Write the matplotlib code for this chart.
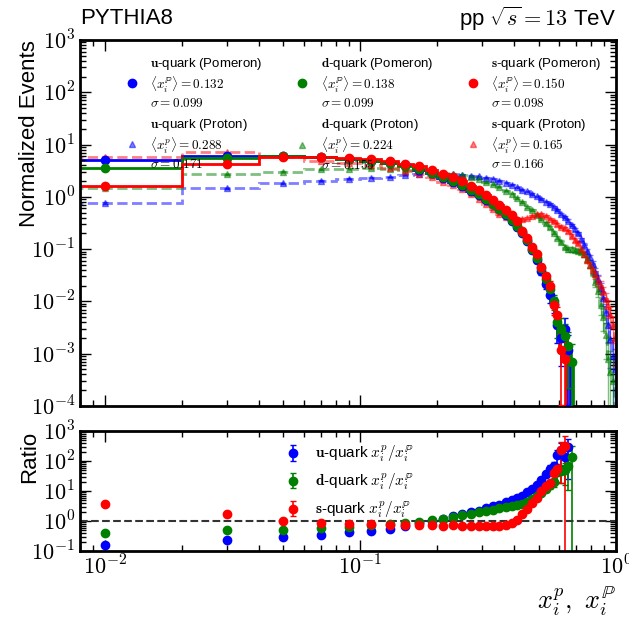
import numpy as np
import matplotlib
matplotlib.use("Agg")
import matplotlib.pyplot as plt
from matplotlib.ticker import FuncFormatter, NullFormatter

plt.rcParams['font.family'] = ['Liberation Sans', 'DejaVu Sans']
plt.rcParams['mathtext.fontset'] = 'cm'

# 50 bins of width 0.02 between 0 and 1
edges = np.linspace(0.0, 1.0, 51)
centers = 0.5 * (edges[1:] + edges[:-1])
width = 0.02
n_events = 50000

# normalised x distributions, Pomeron side (zero above the last filled bin)
pom_u = [5.0, 6.1, 6.1, 5.85, 5.2, 4.9, 4.5, 4.0, 3.3, 2.8,
         2.3, 1.9, 1.6, 1.32, 1.1, 0.88, 0.72, 0.58, 0.44, 0.35,
         0.27, 0.2, 0.14, 0.095, 0.062, 0.038, 0.022, 0.013, 0.009, 0.0035,
         0.002, 0.003, 0.0012] + [0.0] * 17
pom_d = [3.6, 5.45, 6.0, 5.8, 5.3, 4.9, 4.5, 3.9, 3.35, 2.85,
         2.4, 2.0, 1.65, 1.35, 1.12, 0.9, 0.73, 0.58, 0.46, 0.36,
         0.28, 0.21, 0.15, 0.1, 0.068, 0.044, 0.027, 0.017, 0.01, 0.004,
         0.003, 0.0022, 0.0014, 0.0007] + [0.0] * 16
pom_s = [1.6, 4.24, 5.7, 5.7, 5.6, 5.2, 4.85, 4.2, 3.83, 3.31,
         2.76, 2.39, 2.0, 1.64, 1.36, 1.09, 0.885, 0.71, 0.567, 0.455,
         0.348, 0.223, 0.16, 0.109, 0.079, 0.045, 0.03, 0.02, 0.0085, 0.0055,
         0.0012, 0.0008] + [0.0] * 18

# proton side
pro_u = [0.77, 1.45, 1.81, 2.03, 2.2, 2.3, 2.4, 2.65, 2.75, 2.75,
         2.75, 2.7, 2.65, 2.55, 2.45, 2.32, 2.2, 2.05, 1.85, 1.7,
         1.53, 1.38, 1.27, 1.14, 1.02, 0.9, 0.81, 0.72, 0.63, 0.55,
         0.475, 0.41, 0.35, 0.29, 0.24, 0.2, 0.154, 0.12, 0.092, 0.07,
         0.052, 0.037, 0.027, 0.018, 0.0115, 0.0064, 0.0035, 0.0019, 0.0009, 0.0005]
pro_d = [1.45, 2.7, 3.0, 3.36, 3.45, 3.5, 3.45, 3.3, 3.2, 2.98,
         2.85, 2.75, 2.6, 2.4, 2.2, 1.92, 1.75, 1.55, 1.32, 1.15,
         0.95, 0.8, 0.65, 0.55, 0.45, 0.38, 0.31, 0.26, 0.206, 0.166,
         0.137, 0.11, 0.099, 0.099, 0.097, 0.093, 0.09, 0.079, 0.066, 0.05,
         0.037, 0.024, 0.016, 0.0085, 0.005, 0.0023, 0.0008, 0.00045, 0.0003, 0.0]
pro_s = [5.85, 7.1, 5.9, 4.9, 4.45, 4.0, 3.6, 3.15, 2.75, 2.35,
         1.95, 1.7, 1.4, 1.12, 0.92, 0.73, 0.59, 0.47, 0.42, 0.4,
         0.38, 0.37, 0.4, 0.43, 0.47, 0.46, 0.43, 0.38, 0.34, 0.3,
         0.27, 0.25, 0.22, 0.18, 0.15, 0.13, 0.1, 0.08, 0.063, 0.05,
         0.04, 0.033, 0.025, 0.02, 0.015, 0.011, 0.008, 0.0055, 0.0035, 0.002]

quarks = ['u', 'd', 's']
colors = ['blue', 'green', 'red']
mean_pom = ['0.132', '0.138', '0.150']
sigma_pom = ['0.099', '0.099', '0.098']
mean_pro = ['0.288', '0.224', '0.165']
sigma_pro = ['0.171', '0.155', '0.166']


def stat_err(vals):
    counts = vals * n_events * width
    return np.sqrt(counts) / (n_events * width)


def pow10(v, pos):
    return r'$10^{%d}$' % int(round(np.log10(v)))


fig = plt.figure(figsize=(6.29, 6.2), dpi=100)
ax = fig.add_axes([0.1272, 0.3452, 0.8522, 0.5903])
rax = fig.add_axes([0.1272, 0.1113, 0.8522, 0.1935], sharex=ax)

handles, labels = [], []
rhandles, rlabels = [], []
for q, c, pom, pro, mp, sp, mq, sq in zip(quarks, colors, [pom_u, pom_d, pom_s],
                                          [pro_u, pro_d, pro_s], mean_pom, sigma_pom,
                                          mean_pro, sigma_pro):
    pom = np.array(pom)
    pro = np.array(pro)

    # proton: dashed, faded triangles
    ax.stairs(pro, edges, baseline=None, color=c, ls='--', lw=2, alpha=0.5)
    m = pro > 0
    eb_pro = ax.errorbar(centers[m], pro[m], yerr=stat_err(pro[m]), fmt='^', color=c,
                         alpha=0.5, ms=5, capsize=2, elinewidth=1)

    # pomeron: solid steps with circles
    ax.stairs(pom, edges, baseline=None, color=c, lw=2)
    m = pom > 0
    eb_pom = ax.errorbar(centers[m], pom[m], yerr=stat_err(pom[m]), fmt='o', color=c,
                         ms=6, capsize=2, elinewidth=1.2, zorder=3)

    handles += [eb_pom[0], eb_pro[0]]
    labels += [r'$\mathbf{%s}$-quark (Pomeron)' % q + '\n'
               + r'$\langle x_i^{\mathbb{P}}\rangle = %s$' % mp + '\n'
               + r'$\sigma = %s$' % sp,
               r'$\mathbf{%s}$-quark (Proton)' % q + '\n'
               + r'$\langle x_i^{p}\rangle = %s$' % mq + '\n'
               + r'$\sigma = %s$' % sq]

    # ratio proton / pomeron
    m = (pom > 0) & (pro > 0)
    ratio = pro[m] / pom[m]
    rerr = ratio * np.sqrt((stat_err(pro[m]) / pro[m]) ** 2 + (stat_err(pom[m]) / pom[m]) ** 2)
    eb_r = rax.errorbar(centers[m], ratio, yerr=rerr, fmt='o', color=c, ms=6,
                        capsize=2, elinewidth=1.2)
    rhandles.append(eb_r)
    rlabels.append(r'$\mathbf{%s}$-quark $x_i^p/x_i^{\mathbb{P}}$' % q)

rax.axhline(1.0, color='#333333', ls='--', lw=1.5)

for a in (ax, rax):
    a.set_xscale('log')
    a.set_yscale('log')
    a.tick_params(which='both', direction='in', top=True, right=True, labelsize=16)
    a.tick_params(which='major', length=8, width=1)
    a.tick_params(which='minor', length=4, width=1)
    for axis in (a.xaxis, a.yaxis):
        axis.set_major_formatter(FuncFormatter(pow10))
        axis.set_minor_formatter(NullFormatter())
    for s in a.spines.values():
        s.set_linewidth(2)

ax.set_xlim(0.008, 1.0)
ax.set_ylim(1e-4, 1e3)
rax.set_ylim(1e-1, 1e3)
ax.tick_params(labelbottom=False)

ax.set_ylabel('Normalized Events', fontsize=16, loc='top')
ax.yaxis.set_label_coords(-0.075, 1.0)
rax.set_ylabel('Ratio', fontsize=16, loc='top')
rax.yaxis.set_label_coords(-0.075, 1.0)
rax.set_xlabel(r'$x_i^p,\ x_i^{\mathbb{P}}$', fontsize=19, loc='right')

leg = ax.legend(handles, labels, ncol=3, frameon=False, loc='upper left',
                bbox_to_anchor=(0.06, 0.99), fontsize=9.5, handlelength=1.2,
                handletextpad=0.8, columnspacing=2.4, labelspacing=0.55)
leg.set_zorder(5)
rax.legend(rhandles, rlabels, frameon=False, loc='upper left',
           bbox_to_anchor=(0.358, 1.01), fontsize=11, handlelength=1.0,
           handletextpad=0.9, labelspacing=0.45)

fig.text(0.1272, 1 - 19 / 620, 'PYTHIA8', fontsize=16, va='center', ha='left')
fig.text(0.979, 1 - 19 / 620, r'pp $\sqrt{s} = 13$ TeV', fontsize=16, va='center', ha='right')

fig.savefig('out.png', dpi=100)
